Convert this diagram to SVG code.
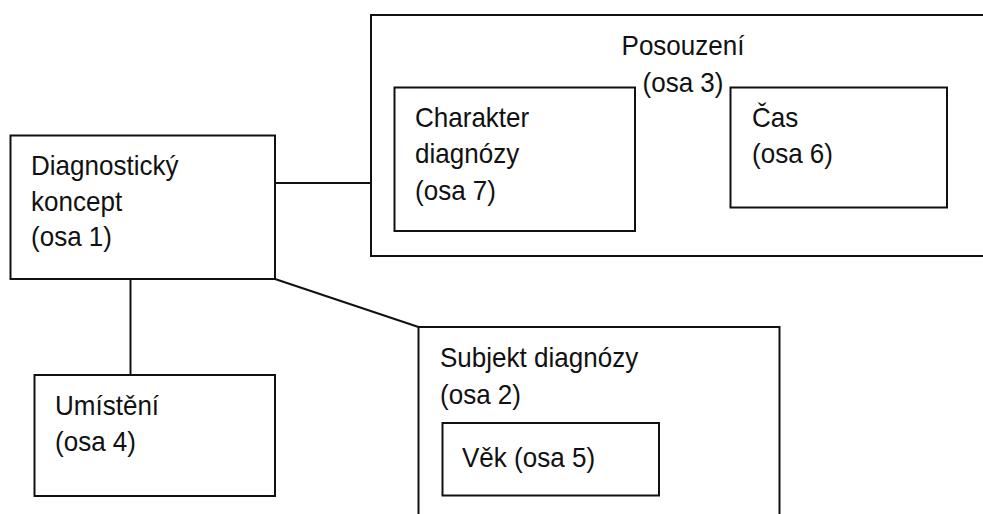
<svg xmlns="http://www.w3.org/2000/svg" width="983" height="514" viewBox="0 0 983 514">
<style>
rect{fill:none;stroke:#111;stroke-width:2}
line{stroke:#111;stroke-width:2}
text{font-family:"Liberation Sans",Arial,sans-serif;font-size:28px;fill:#111}
.c{text-anchor:middle}
</style>
<rect x="0" y="0" width="983" height="514" style="fill:#fff;stroke:none"/>
<g id="connectors">
<line x1="275" y1="183" x2="371" y2="183"/>
<line x1="130.5" y1="279" x2="130.5" y2="375"/>
<line x1="275" y1="279" x2="418.5" y2="327"/>
</g>
<g id="posouzeni">
<rect x="371" y="15" width="640" height="241"/>
<text class="c" transform="translate(683 55) scale(.93 1)">Posouzení</text>
<text class="c" transform="translate(683 91.5) scale(.93 1)">(osa 3)</text>
</g>
<g id="charakter">
<rect x="394.5" y="87.5" width="240.5" height="143.5"/>
<text transform="translate(415 127) scale(.93 1)">Charakter</text>
<text transform="translate(415 163) scale(.93 1)">diagnózy</text>
<text transform="translate(415 199.5) scale(.93 1)">(osa 7)</text>
</g>
<g id="cas">
<rect x="730.5" y="87.5" width="216.5" height="120"/>
<text transform="translate(752 126.5) scale(.93 1)">Čas</text>
<text transform="translate(752 163) scale(.93 1)">(osa 6)</text>
</g>
<g id="diagnosticky">
<rect x="10.5" y="135.5" width="264.5" height="143.5"/>
<text transform="translate(31 174.5) scale(.93 1)">Diagnostický</text>
<text transform="translate(31 210.5) scale(.93 1)">koncept</text>
<text transform="translate(31 246) scale(.93 1)">(osa 1)</text>
</g>
<g id="umisteni">
<rect x="34.5" y="375" width="240.5" height="121"/>
<text transform="translate(55 415) scale(.93 1)">Umístění</text>
<text transform="translate(55 451) scale(.93 1)">(osa 4)</text>
</g>
<g id="subjekt">
<rect x="418.5" y="327" width="361" height="220"/>
<text transform="translate(440 367) scale(.93 1)">Subjekt diagnózy</text>
<text transform="translate(440 404) scale(.93 1)">(osa 2)</text>
</g>
<g id="vek">
<rect x="442.5" y="423" width="216.5" height="72.5"/>
<text transform="translate(462 466.5) scale(.93 1)">Věk (osa 5)</text>
</g>
</svg>
